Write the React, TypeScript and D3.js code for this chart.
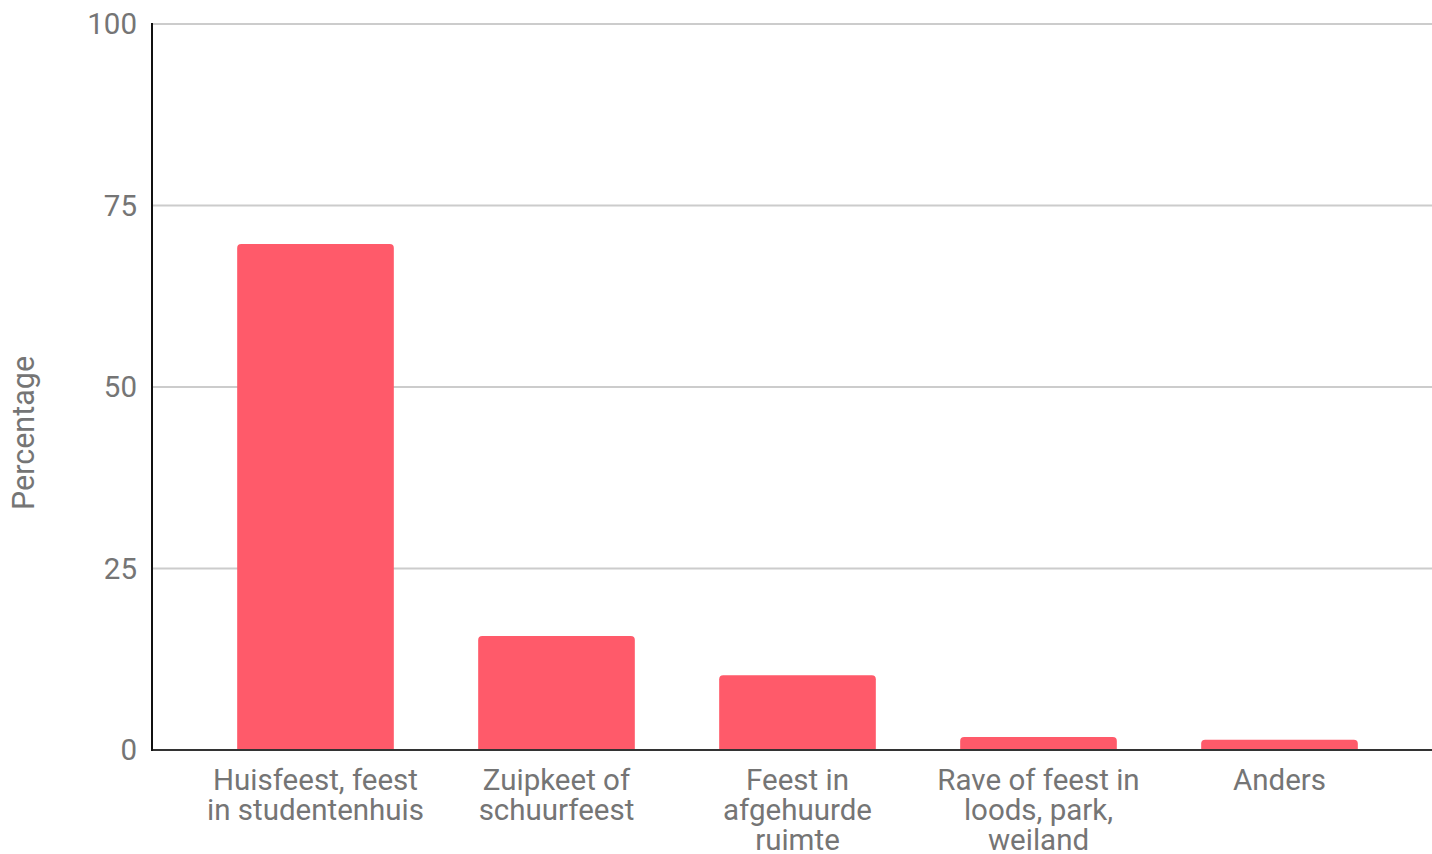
import React from "react";
import * as d3 from "d3";

const categories: string[][] = [
  ["Huisfeest, feest", "in studentenhuis"],
  ["Zuipkeet of", "schuurfeest"],
  ["Feest in", "afgehuurde", "ruimte"],
  ["Rave of feest in", "loods, park,", "weiland"],
  ["Anders"],
];
const values: number[] = [69.7, 15.7, 10.3, 1.8, 1.4];
const yTicks: number[] = [0, 25, 50, 75, 100];

const W = 1432;
const H = 854;

function topRoundedRect(x: number, y: number, w: number, h: number, r: number) {
  const rr = Math.min(r, h, w / 2);
  return `M${x},${y + h}V${y + rr}Q${x},${y} ${x + rr},${y}H${x + w - rr}Q${x + w},${y} ${x + w},${y + rr}V${y + h}Z`;
}

export default function App() {
  const y = d3.scaleLinear().domain([0, 100]).range([750, 24]);
  const x = d3
    .scaleBand<number>()
    .domain(values.map((_, i) => i))
    .range([195, 1400])
    .paddingInner(0.35)
    .paddingOuter(0.175);
  const font = "Roboto, 'Noto Sans', sans-serif";
  const grey = "#757575";
  return (
    <svg width={W} height={H} style={{ position: "absolute", left: 0, top: 0, background: "#fff" }}>
      {yTicks.filter((t) => t > 0).map((t) => (
        <line key={"g" + t} x1={152} x2={W} y1={y(t)} y2={y(t)} stroke="#cccccc" strokeWidth={2} />
      ))}
      {yTicks.map((t) => (
        <text key={"t" + t} x={137} y={y(t)} dy="0.35em" textAnchor="end" fontFamily={font} fontSize={29.5} fill={grey}>
          {t}
        </text>
      ))}
      <text
        transform={`translate(34,433) rotate(-90)`}
        textAnchor="middle"
        fontFamily={font}
        fontSize={30.5}
        fill={grey}
      >
        Percentage
      </text>
      {values.map((v, i) => (
        <path
          key={"b" + i}
          d={topRoundedRect(x(i)!, y(v), x.bandwidth(), y(0) - y(v), 4)}
          fill="#ff5a6a"
        />
      ))}
      <line x1={152} x2={W} y1={750} y2={750} stroke="#333333" strokeWidth={2} />
      <line x1={152} x2={152} y1={23} y2={751} stroke="#111111" strokeWidth={2} />
      {categories.map((lines, i) => (
        <text
          key={"c" + i}
          x={x(i)! + x.bandwidth() / 2}
          y={790}
          textAnchor="middle"
          fontFamily={font}
          fontSize={29.5}
          fill={grey}
        >
          {lines.map((l, j) => (
            <tspan key={j} x={x(i)! + x.bandwidth() / 2} dy={j === 0 ? 0 : 30}>
              {l}
            </tspan>
          ))}
        </text>
      ))}
    </svg>
  );
}
